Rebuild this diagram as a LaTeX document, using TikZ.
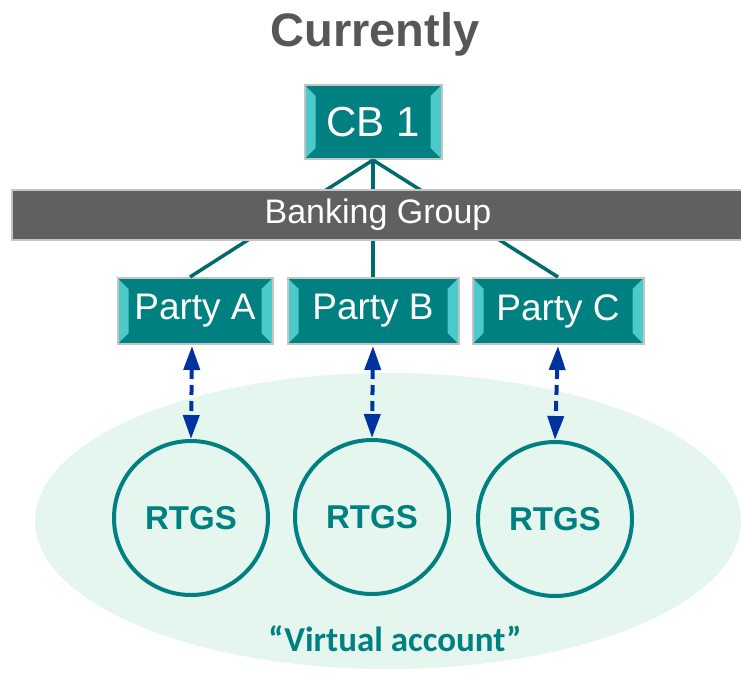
\documentclass[tikz,border=0pt]{standalone}
\usepackage{fontspec}
\setmainfont{Liberation Sans}
\newfontfamily\calib{Carlito}
\usetikzlibrary{arrows.meta}
\definecolor{teal0}{HTML}{008080}
\definecolor{tealline}{HTML}{006B6B}
\definecolor{bevlight}{HTML}{4CCACA}
\definecolor{boxgray}{HTML}{C4C4C4}
\definecolor{bargray}{HTML}{606060}
\definecolor{titlegray}{HTML}{575757}
\definecolor{ellfill}{HTML}{E5F6EE}
\definecolor{arrblue}{HTML}{0033A0}
\tikzset{
  bevelbox/.style={draw=boxgray, line width=2pt, fill=teal0, text=white,
    inner sep=0pt, font=\fontsize{37}{40}\selectfont,
    path picture={
      \fill[bevlight] (path picture bounding box.south west) -- (path picture bounding box.north west)
        -- ++(11pt,-11pt) -- ([shift={(11pt,11pt)}]path picture bounding box.south west) -- cycle;
      \fill[bevlight] (path picture bounding box.south east) -- (path picture bounding box.north east)
        -- ++(-11pt,-11pt) -- ([shift={(-11pt,11pt)}]path picture bounding box.south east) -- cycle;
    }},
  conn/.style={draw=tealline, line width=3.5pt},
  rtgs/.style={circle, draw=teal0, line width=4pt, minimum size=154pt, inner sep=0pt,
    text=teal0, font=\bfseries\fontsize{33}{36}\selectfont},
  varrow/.style={draw=arrblue, line width=4pt, dash pattern=on 10pt off 6pt,
    {Triangle[width=16pt,length=24pt]}-{Triangle[width=16pt,length=24pt]}, shorten <=1pt, shorten >=0pt}
}
\begin{document}
\begin{tikzpicture}[x=1pt,y=-1pt]
\useasboundingbox (0,0) rectangle (741,677);
% virtual account ellipse
\fill[ellfill] (388,521) ellipse[x radius=353, y radius=148];
\node[text=titlegray, font=\bfseries\fontsize{47}{50}\selectfont] (title) at (375,34) {Currently};
\node[bevelbox, minimum width=137pt, minimum height=74pt, font=\fontsize{42}{44}\selectfont] (cb) at (373,122) {CB 1};
\node[bevelbox, minimum width=155pt, minimum height=66pt] (pa) at (195,311) {Party A};
\node[bevelbox, minimum width=171pt, minimum height=66pt] (pb) at (373,311) {Party B};
\node[bevelbox, minimum width=171pt, minimum height=66pt] (pc) at (558,311) {Party C};
\draw[conn] (cb.south) -- ([xshift=-5pt]pa.north);
\draw[conn] (cb.south) -- (pb.north);
\draw[conn] (cb.south) -- (pc.north);
\node[draw=boxgray, line width=2pt, fill=bargray, text=white, minimum width=740pt, minimum height=50pt,
  inner sep=0pt, anchor=west, font=\fontsize{34}{36}\selectfont] (bg) at (11,215) {\hspace*{-8pt}Banking Group};
\node[rtgs] (ra) at (191,518) {RTGS};
\node[rtgs] (rb) at (372,517) {RTGS};
\node[rtgs] (rc) at (555,519) {RTGS};
\draw[varrow] ([xshift=-3pt]pa.south) -- (ra.north);
\draw[varrow] (pb.south) -- (rb.north);
\draw[varrow] (pc.south) -- (rc.north);
\node[text=teal0, font=\calib\bfseries\fontsize{35}{38}\selectfont] (va) at (395,639) {“Virtual account”};
\end{tikzpicture}
\end{document}
